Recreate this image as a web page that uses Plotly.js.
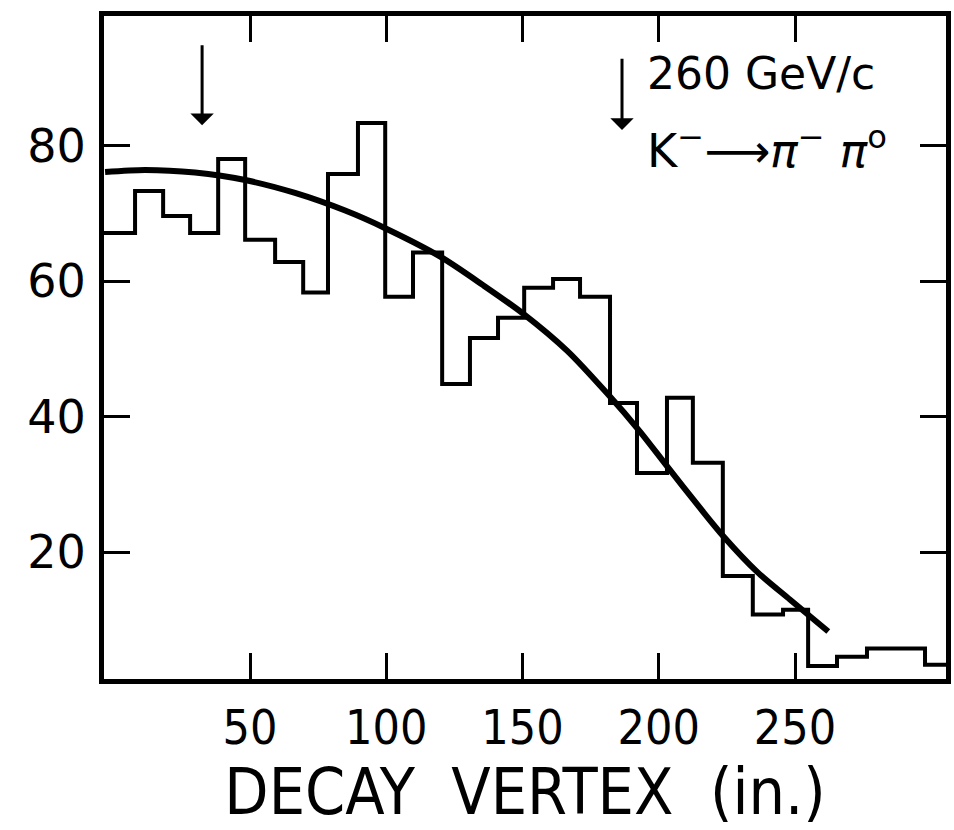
<!DOCTYPE html>
<html>
<head>
<meta charset="utf-8">
<script src="https://cdn.plot.ly/plotly-3.0.1.min.js"></script>
<style>html,body{margin:0;padding:0;background:#fff;}#chart{width:954px;height:830px;}</style>
</head>
<body>
<div id="chart"></div>
<script>
// Histogram bin edges (in.) and counts per bin
const binEdges = [-3.6, 7.8, 18.1, 28.0, 38.3, 48.2, 59.2, 69.5, 78.6, 89.6, 99.6,
  109.8, 120.5, 130.7, 141.0, 150.6, 161.2, 171.1, 182.1, 192.0, 203.0,
  212.5, 223.5, 234.5, 245.6, 254.8, 265.4, 276.4, 297.7, 305.4];
const binCounts = [67.1, 73.3, 69.6, 67.1, 78.0, 66.1, 62.8, 58.3, 75.8, 83.3,
  57.7, 64.2, 44.8, 51.6, 54.6, 59.0, 60.3, 57.7, 42.0, 31.7,
  42.8, 33.2, 16.5, 10.8, 11.5, 3.2, 4.6, 5.8, 3.4];

// Smooth acceptance curve
const curveX = [-3.2, 11.5, 29.8, 48.2, 66.5, 84.9, 99.6, 119.8, 135.5, 150.2,
  166.4, 181.1, 193.1, 203.0, 215.2, 223.6, 236.1, 248.2, 262.2];
const curveY = [76.1, 76.4, 76.0, 74.9, 73.0, 70.4, 67.8, 63.6, 59.4, 55.2,
  49.7, 43.4, 37.8, 32.7, 26.5, 22.4, 17.1, 13.0, 8.3];

const xTicks = [50, 100, 150, 200, 250];
const yTicks = [20, 40, 60, 80];

// Arrow markers (x position, top, bottom)
const arrowX = [32.4, 186.5];
const arrowTop = [95.0, 93.0];
const arrowBottom = [83.0, 82.3];

const labelBeam = '260 GeV/c';
const labelDecay = 'K<sup>\u2212</sup>\u27F6<i>\u03c0</i><sup>\u2212</sup> <i>\u03c0</i><sup>o</sup>';

const stepX = binEdges.slice();
const stepY = binCounts.concat([binCounts[binCounts.length - 1]]);

const traces = [
  {x: stepX, y: stepY, type: 'scatter', mode: 'lines',
   line: {shape: 'hv', color: '#000', width: 4}, hoverinfo: 'skip', showlegend: false},
  {x: curveX, y: curveY, type: 'scatter', mode: 'lines',
   line: {shape: 'spline', smoothing: 0.8, color: '#000', width: 6}, hoverinfo: 'skip', showlegend: false}
];

const annotations = arrowX.map((ax, i) => ({
  x: ax, y: arrowBottom[i], ax: ax, ay: arrowTop[i], xref: 'x', yref: 'y', axref: 'x', ayref: 'y',
  text: '', showarrow: true, arrowhead: 1, arrowsize: 1.3, arrowwidth: 3, arrowcolor: '#000'
}));
annotations.push({
  xref: 'x', yref: 'y', x: 195, y: 90.6, xanchor: 'left', yanchor: 'middle',
  text: labelBeam, showarrow: false,
  font: {family: 'DejaVu Sans', size: 44, color: '#000'}
});
annotations.push({
  xref: 'x', yref: 'y', x: 195, y: 79.6, xanchor: 'left', yanchor: 'middle',
  text: labelDecay, showarrow: false,
  font: {family: 'DejaVu Sans', size: 46, color: '#000'}
});

const layout = {
  width: 954, height: 830,
  margin: {l: 104, r: 8, t: 16, b: 151},
  paper_bgcolor: '#fff', plot_bgcolor: '#fff',
  xaxis: {
    range: [-3.6, 305.4], tickvals: xTicks, ticktext: xTicks.map(String),
    ticks: 'inside', ticklen: 26, tickwidth: 3, tickcolor: '#000',
    showline: true, linewidth: 5, linecolor: '#000', mirror: 'ticks',
    showgrid: false, zeroline: false,
    tickfont: {family: 'Liberation Sans Narrow, DejaVu Sans Condensed, sans-serif', size: 48, color: '#000'},
    ticklabelstandoff: 2,
    title: {text: 'DECAY  VERTEX  (in.)', standoff: 12,
      font: {family: 'Liberation Sans Narrow, DejaVu Sans Condensed, sans-serif', size: 64, color: '#000'}},
    automargin: false
  },
  yaxis: {
    range: [1.3, 99.1], tickvals: yTicks, ticktext: yTicks.map(String),
    ticks: 'inside', ticklen: 26, tickwidth: 3, tickcolor: '#000',
    showline: true, linewidth: 5, linecolor: '#000', mirror: 'ticks',
    showgrid: false, zeroline: false,
    tickfont: {family: 'DejaVu Sans', size: 46, color: '#000'},
    ticklabelstandoff: 4,
    automargin: false
  },
  annotations: annotations,
  showlegend: false
};

Plotly.newPlot('chart', traces, layout, {staticPlot: true, displayModeBar: false});
</script>
</body>
</html>
